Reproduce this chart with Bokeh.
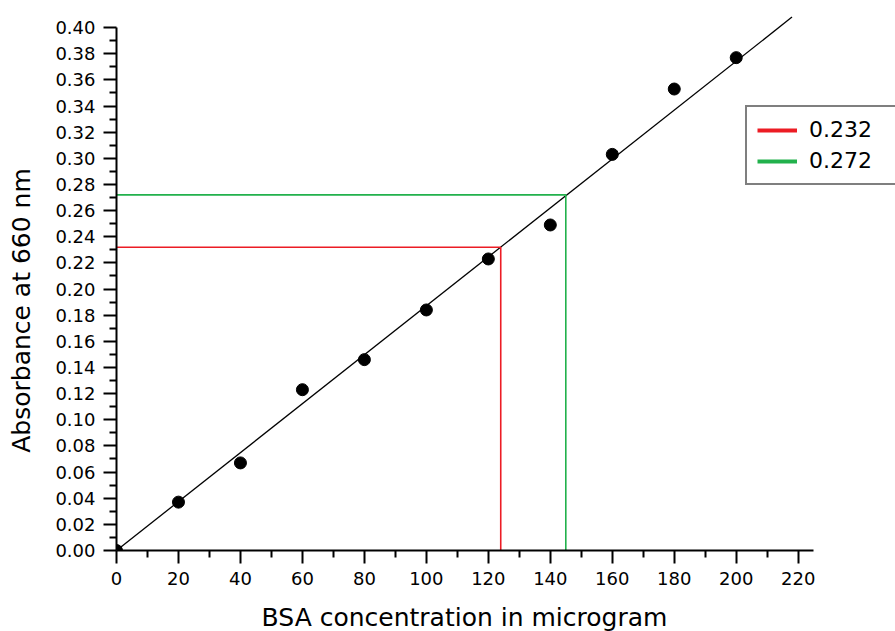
import math
from bokeh.plotting import figure
from bokeh.models import FixedTicker, Legend, LegendItem, PrintfTickFormatter, Range1d, Label
from bokeh.embed import file_html
from bokeh.resources import INLINE

# ---- data ----
bsa_conc = [0, 20, 40, 60, 80, 100, 120, 140, 160, 180, 200]
absorbance = [0.000, 0.037, 0.067, 0.123, 0.146, 0.184, 0.223, 0.249, 0.303, 0.353, 0.377]

fit_x = [0, 218]
fit_y = [0.000, 0.408]

sample_abs = [0.232, 0.272]
sample_conc = [124, 145]

x_ticks = [0, 20, 40, 60, 80, 100, 120, 140, 160, 180, 200, 220]
x_minor = [10, 30, 50, 70, 90, 110, 130, 150, 170, 190, 210]
y_ticks = [0.00, 0.02, 0.04, 0.06, 0.08, 0.10, 0.12, 0.14, 0.16, 0.18, 0.20,
           0.22, 0.24, 0.26, 0.28, 0.30, 0.32, 0.34, 0.36, 0.38, 0.40]
y_minor = [0.01, 0.03, 0.05, 0.07, 0.09, 0.11, 0.13, 0.15, 0.17, 0.19,
           0.21, 0.23, 0.25, 0.27, 0.29, 0.31, 0.33, 0.35, 0.37, 0.39]

x_label = "BSA concentration in microgram"
y_label = "Absorbance at 660 nm"

# ---- styles ----
sample_colors = ["#ec1c24", "#22b14c"]
FONT = "DejaVu Sans"

p = figure(width=895, height=631, output_backend="svg", toolbar_location=None,
           x_range=Range1d(0, 251.4), y_range=Range1d(0, 0.41),
           min_border_left=116, min_border_right=0, min_border_top=14, min_border_bottom=81)
p.outline_line_color = None
p.xgrid.visible = False
p.ygrid.visible = False

# fit line
p.line(fit_x, fit_y, line_color="black", line_width=1.3)

# sample reference lines
for a, c, col in zip(sample_abs, sample_conc, sample_colors):
    p.line([0, c, c], [a, a, 0], line_color=col, line_width=1.6)

# data points
p.scatter(bsa_conc, absorbance, size=12, color="black")

# legend with thick samples (renderers lie outside the visible ranges)
items = []
for a, col in zip(sample_abs, sample_colors):
    r = p.line([-20, -10], [-1, -1], line_color=col, line_width=4)
    items.append(LegendItem(label=f"{a:.3f}", renderers=[r]))
legend = Legend(items=items, location=(629, 365))
legend.border_line_color = "black"
legend.border_line_width = 2
legend.label_text_font = FONT
legend.label_text_font_size = "22px"
legend.label_text_color = "black"
legend.glyph_width = 40
legend.glyph_height = 22
legend.label_height = 22
legend.label_width = 90
legend.label_standoff = 12
legend.padding = 10
legend.spacing = 6
legend.margin = 0
p.add_layout(legend)

# axes
for ax in (p.xaxis[0], p.yaxis[0]):
    ax.axis_line_width = 2
    ax.axis_line_color = "black"
    ax.major_tick_line_width = 2
    ax.minor_tick_line_width = 2
    ax.major_tick_line_color = "black"
    ax.minor_tick_line_color = "black"
    ax.major_tick_in = 0
    ax.major_tick_out = 13
    ax.minor_tick_in = 0
    ax.minor_tick_out = 7
    ax.major_label_text_font = FONT
    ax.major_label_text_font_size = "18px"
    ax.major_label_text_color = "black"

p.xaxis[0].ticker = FixedTicker(ticks=x_ticks, minor_ticks=x_minor)
p.yaxis[0].ticker = FixedTicker(ticks=y_ticks, minor_ticks=y_minor)
p.yaxis[0].formatter = PrintfTickFormatter(format="%.2f")
p.xaxis[0].bounds = (0, 225)
p.yaxis[0].bounds = (0, 0.40)
p.xaxis[0].major_label_standoff = 8
p.yaxis[0].major_label_standoff = 8

# axis titles as labels in the side panels, placed in canvas pixels
p.add_layout(Label(x=464, y=617, x_units="canvas", y_units="canvas", text=x_label,
                   text_font=FONT, text_font_size="25px", text_color="black",
                   text_align="center", text_baseline="alphabetic"), "below")
p.add_layout(Label(x=21, y=310, x_units="canvas", y_units="canvas", text=y_label,
                   angle=math.pi / 2, text_font=FONT, text_font_size="25px",
                   text_color="black", text_align="center", text_baseline="alphabetic"), "left")

open("out.html", "w").write(file_html(p, INLINE))
